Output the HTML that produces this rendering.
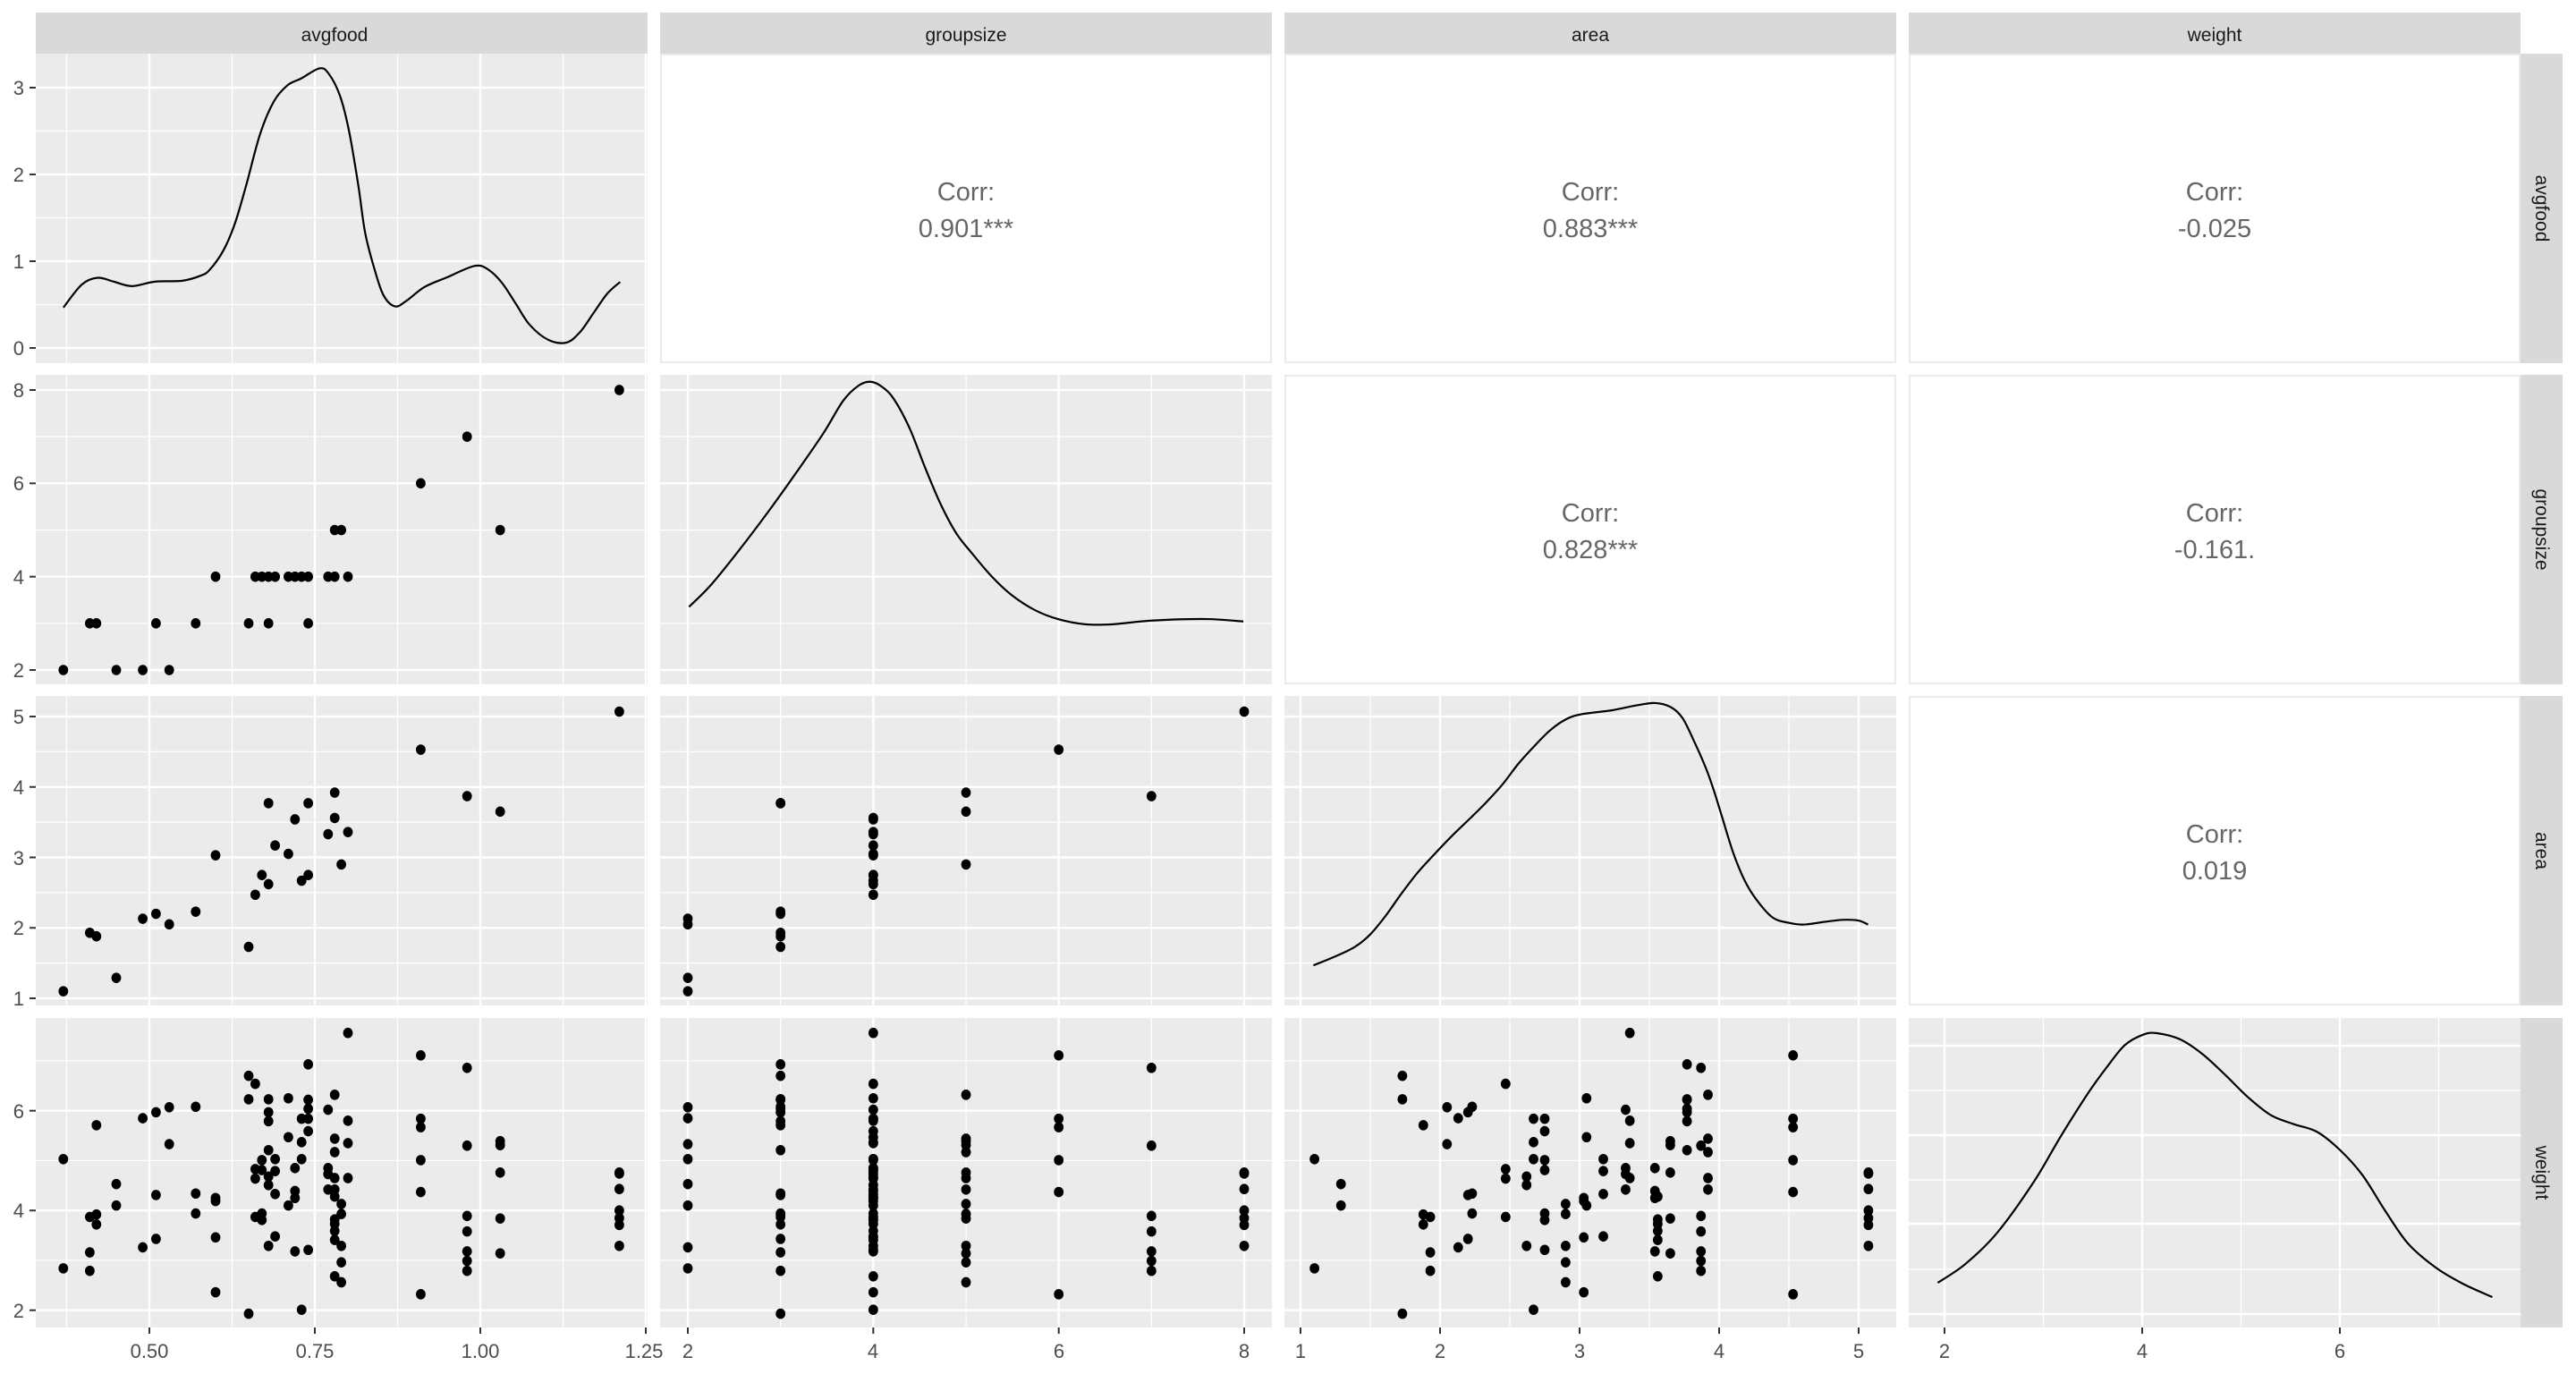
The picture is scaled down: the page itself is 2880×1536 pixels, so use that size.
<!DOCTYPE html>
<html><head><meta charset="utf-8">
<style>
html,body{margin:0;padding:0;background:#fff;}
svg{display:block;}
</style></head>
<body>
<svg id="s" width="2880" height="1536" xmlns="http://www.w3.org/2000/svg" font-family="Liberation Sans, sans-serif">
<rect width="2880" height="1536" fill="#fff"/>
<g id="g"></g>
<text x="374" y="46" text-anchor="middle" font-size="21" fill="#1a1a1a">avgfood</text>
<text x="1080" y="46" text-anchor="middle" font-size="21" fill="#1a1a1a">groupsize</text>
<text x="1778" y="46" text-anchor="middle" font-size="21" fill="#1a1a1a">area</text>
<text x="2476" y="46" text-anchor="middle" font-size="21" fill="#1a1a1a">weight</text>
<text transform="translate(2835,233) rotate(90)" text-anchor="middle" font-size="21" fill="#1a1a1a">avgfood</text>
<text transform="translate(2835,592) rotate(90)" text-anchor="middle" font-size="21" fill="#1a1a1a">groupsize</text>
<text transform="translate(2835,951) rotate(90)" text-anchor="middle" font-size="21" fill="#1a1a1a">area</text>
<text transform="translate(2835,1311) rotate(90)" text-anchor="middle" font-size="21" fill="#1a1a1a">weight</text>
<g font-size="29" fill="#666" text-anchor="middle">
<text x="1080" y="224">Corr:</text><text x="1080" y="265">0.901***</text>
<text x="1778" y="224">Corr:</text><text x="1778" y="265">0.883***</text>
<text x="2476" y="224">Corr:</text><text x="2476" y="265">-0.025</text>
<text x="1778" y="583">Corr:</text><text x="1778" y="624">0.828***</text>
<text x="2476" y="583">Corr:</text><text x="2476" y="624">-0.161.</text>
<text x="2476" y="942">Corr:</text><text x="2476" y="983">0.019</text>
</g>
<g font-size="22" fill="#4d4d4d" text-anchor="end">
<text x="27" y="106">3</text><text x="27" y="203">2</text><text x="27" y="300">1</text><text x="27" y="397">0</text>
<text x="27" y="444">8</text><text x="27" y="548">6</text><text x="27" y="653">4</text><text x="27" y="757">2</text>
<text x="27" y="809">5</text><text x="27" y="888">4</text><text x="27" y="967">3</text><text x="27" y="1045">2</text><text x="27" y="1124">1</text>
<text x="27" y="1250">6</text><text x="27" y="1361">4</text><text x="27" y="1473">2</text>
</g>
<g font-size="22" fill="#4d4d4d" text-anchor="middle">
<text x="167" y="1518">0.50</text><text x="352" y="1518">0.75</text><text x="537" y="1518">1.00</text><text x="720" y="1518">1.25</text>
<text x="769" y="1518">2</text><text x="976" y="1518">4</text><text x="1184" y="1518">6</text><text x="1391" y="1518">8</text>
<text x="1454" y="1518">1</text><text x="1610" y="1518">2</text><text x="1766" y="1518">3</text><text x="1922" y="1518">4</text><text x="2078" y="1518">5</text>
<text x="2174" y="1518">2</text><text x="2395" y="1518">4</text><text x="2616" y="1518">6</text>
</g>
</svg>
<script>
(function(){
var NS="http://www.w3.org/2000/svg",G=document.getElementById("g");
function el(t,a){var e=document.createElementNS(NS,t);for(var k in a)e.setAttribute(k,a[k]);G.appendChild(e);return e;}
var cols=[[40,724],[738,1422],[1436,2120],[2134,2818]];
var rows=[[60,406],[419,765],[778,1124],[1138,1484]];
var X=[function(v){return 167+(v-0.5)*740},function(g){return 769+(g-2)*103.67},function(a){return 1454+(a-1)*156},function(w){return 2174+(w-2)*110.5}];
var Y=[function(d){return 389-97*d},function(g){return 749-(g-2)*52.17},function(a){return 1116-(a-1)*78.75},function(w){return 1464.7-(w-2)*55.75}];
function rng(a,b,s){var r=[];for(var v=a;v<=b+1e-9;v+=s)r.push(+v.toFixed(4));return r;}
var xg=[{all:rng(0.375,1.25,0.125),maj:[0.5,0.75,1,1.25]},{all:rng(2,8,1),maj:[2,4,6,8]},{all:rng(1,5,0.5),maj:[1,2,3,4,5]},{all:rng(2,7,1),maj:[2,4,6]}];
var yg=[{all:rng(0,3,0.5),maj:[0,1,2,3]},{all:rng(2,8,1),maj:[2,4,6,8]},{all:rng(1,5,0.5),maj:[1,2,3,4,5]},{all:rng(2,7,1),maj:[2,4,6]}];
for(var c=0;c<4;c++)el("rect",{x:cols[c][0],y:14,width:cols[c][1]-cols[c][0],height:46,fill:"#d9d9d9"});
for(var r=0;r<4;r++)el("rect",{x:2818,y:rows[r][0],width:47,height:rows[r][1]-rows[r][0],fill:"#d9d9d9"});
for(var r=0;r<4;r++)for(var c=0;c<4;c++){
 var x0=cols[c][0],x1=cols[c][1],y0=rows[r][0],y1=rows[r][1];
 if(c>r){el("rect",{x:x0+1,y:y0+1,width:x1-x0-2,height:y1-y0-2,fill:"#fff",stroke:"#ebebeb","stroke-width":2});continue;}
 el("rect",{x:x0,y:y0,width:x1-x0,height:y1-y0,fill:"#ebebeb"});
 xg[c].all.forEach(function(v){var p=X[c](v);if(p<x0||p>x1)return;var m=xg[c].maj.indexOf(v)>=0;
  el("line",{x1:p,x2:p,y1:y0,y2:y1,stroke:"#fff","stroke-width":m?2.4:1.2});});
 if(r==3&&c==3){[1169,1219,1269,1319,1368,1419,1469].forEach(function(p,i){el("line",{x1:x0,x2:x1,y1:p,y2:p,stroke:"#fff","stroke-width":i%2==0?2.4:1.2});});}
 else yg[r].all.forEach(function(v){var p=Y[r](v);if(p<y0||p>y1)return;var m=yg[r].maj.indexOf(v)>=0;
  el("line",{x1:x0,x2:x1,y1:p,y2:p,stroke:"#fff","stroke-width":m?2.4:1.2});});
}
for(var r=0;r<4;r++)yg[r].maj.forEach(function(v){var p=Y[r](v);if(p<rows[r][0]||p>rows[r][1])return;el("line",{x1:33,x2:40,y1:p,y2:p,stroke:"#333","stroke-width":2});});
for(var c=0;c<4;c++)xg[c].maj.forEach(function(v){var p=X[c](v);if(p<cols[c][0]-1||p>cols[c][1]+1)return;el("line",{x1:p,x2:p,y1:1484,y2:1491,stroke:"#333","stroke-width":2});});
var D=[[0.37,2,1.10,[5.03,2.84]],[0.41,3,1.93,[3.87,3.16,2.79]],[0.42,3,1.88,[5.71,3.92,3.72]],[0.45,2,1.29,[4.53,4.10]],
[0.49,2,2.13,[5.85,3.26]],[0.51,3,2.20,[5.97,4.31,3.43]],[0.53,2,2.05,[6.07,5.33]],[0.57,3,2.23,[6.08,4.34,3.94]],
[0.60,4,3.03,[4.25,4.19,3.46,2.36]],[0.65,3,1.73,[6.70,6.23,1.93]],[0.66,4,2.47,[6.54,4.83,4.64,3.87]],[0.67,4,2.75,[5.01,4.81,3.94,3.81]],
[0.68,3,3.77,[6.23,5.97,5.79,5.21]],[0.68,4,2.62,[4.68,4.51,3.29]],[0.69,4,3.17,[5.03,4.79,4.33,3.48]],[0.71,4,3.05,[6.25,5.47,4.10]],
[0.72,4,3.54,[4.85,4.39,4.25,3.18]],[0.73,4,2.67,[5.84,5.37,5.03,2.01]],[0.74,3,3.77,[6.93,6.22,6.04]],[0.74,4,2.75,[5.84,5.59,3.21]],
[0.77,4,3.33,[6.02,4.85,4.73,4.42]],[0.78,5,3.92,[6.32,5.44,5.17,4.65,4.42]],[0.78,4,3.56,[4.28,3.82,3.73,3.59,3.41,2.68]],
[0.79,5,2.90,[4.13,3.93,3.29,2.96,2.56]],[0.80,4,3.36,[7.56,5.80,5.35,4.65]],[0.91,6,4.53,[7.11,5.84,5.67,5.01,4.37,2.32]],
[0.98,7,3.87,[6.86,5.30,3.89,3.58,3.18,2.99,2.79]],[1.03,5,3.65,[5.39,5.31,4.76,3.84,3.14]],[1.21,8,5.07,[4.76,4.74,4.43,4.00,3.85,3.71,3.29]]];
function dot(x,y){el("ellipse",{cx:x,cy:y,rx:5.4,ry:5.8,fill:"#000"});}
D.forEach(function(g){
 dot(X[0](g[0]),Y[1](g[1]));dot(X[0](g[0]),Y[2](g[2]));dot(X[1](g[1]),Y[2](g[2]));
 g[3].forEach(function(w){dot(X[0](g[0]),Y[3](w));dot(X[1](g[1]),Y[3](w));dot(X[2](g[2]),Y[3](w));});
});
function curve(pts){var d="M"+pts[0][0]+","+pts[0][1];
 for(var i=0;i<pts.length-1;i++){var p0=pts[i-1]||pts[i],p1=pts[i],p2=pts[i+1],p3=pts[i+2]||p2;
  d+=" C"+(p1[0]+(p2[0]-p0[0])/6)+","+(p1[1]+(p2[1]-p0[1])/6)+" "+(p2[0]-(p3[0]-p1[0])/6)+","+(p2[1]-(p3[1]-p1[1])/6)+" "+p2[0]+","+p2[1];}
 el("path",{d:d,fill:"none",stroke:"#000","stroke-width":2.2});}
var A=[[140,1032],[180,955],[215,932],[250,945],[290,960],[340,945],[400,942],[440,925],[460,905],[490,840],[515,750],[540,620],[570,450],[600,340],[630,285],[660,262],[700,228],[720,245],[745,320],[765,440],[785,620],[800,780],[820,900],[840,990],[865,1028],[890,1010],[930,963],[980,930],[1040,892],[1070,905],[1100,950],[1130,1020],[1160,1090],[1200,1140],[1240,1150],[1270,1115],[1300,1050],[1330,985],[1358,946]];
curve(A.map(function(p){return [167+(p[0]-328)*0.511,389-(1168-p[1])*0.3325];}));
var Gs=[[75,785],[130,715],[200,605],[280,470],[350,345],[420,215],[470,110],[510,60],[540,48],[570,65],[600,105],[640,200],[680,330],[720,450],[760,545],[800,610],[850,685],[900,745],[960,795],[1020,825],[1090,842],[1160,842],[1260,830],[1400,825],[1495,833]];
curve(Gs.map(function(p){return [769+(p[0]-72)*0.4365,436+(p[1]-75)*0.3414];}));
var Ar=[[75,888],[130,860],[180,830],[220,790],[260,730],[300,660],[340,595],[380,540],[430,475],[480,415],[520,365],[560,310],[600,245],[640,190],[680,140],[720,105],[760,88],[840,75],[900,60],[950,52],[990,65],[1020,100],[1050,175],[1080,260],[1100,330],[1120,410],[1150,530],[1180,620],[1210,680],[1250,735],[1290,752],[1330,758],[1380,750],[1430,743],[1470,745],[1495,758]];
curve(Ar.map(function(p){return [1454+(p[0]-42)*0.4367,801+(p[1]-95)*0.3508];}));
var W=[[170,1002],[230,940],[300,835],[380,665],[440,510],[500,365],[540,280],[580,205],[620,170],[650,165],[700,185],[750,235],[800,305],[850,380],[900,440],[950,470],[1000,495],[1050,555],[1100,640],[1150,760],[1200,870],[1260,950],[1320,1005],[1385,1050]];
curve(W.map(function(p){return [2174+(p[0]-185)*0.5104,1140+(p[1]-120)/3];}));
})();
</script>
</body></html>
